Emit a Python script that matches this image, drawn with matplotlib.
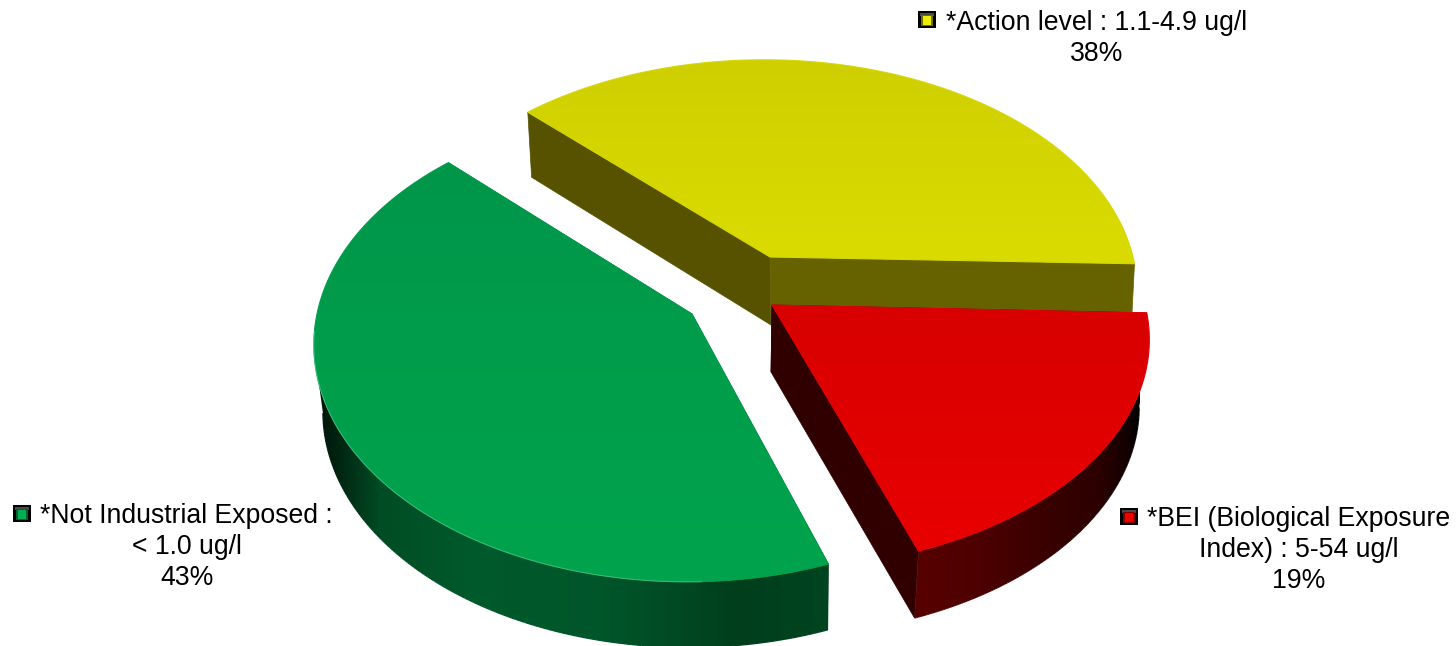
import numpy as np
import matplotlib
matplotlib.use('Agg')
import matplotlib.pyplot as plt
from matplotlib.collections import LineCollection
from matplotlib.colors import LinearSegmentedColormap, Normalize
from matplotlib.patches import Polygon, Rectangle

# clockwise on screen, starting near 3 o'clock
names = ['bei', 'none', 'action']
values = [19, 43, 38]
legend_lines = [
    ['*BEI (Biological Exposure', 'Index) : 5-54 ug/l'],
    ['*Not Industrial Exposed :', '< 1.0 ug/l'],
    ['*Action level : 1.1-4.9 ug/l'],
]

START_DEG = 2.0

# each slice has its own apex and a slightly different view of the disc;
# low = (x offset, x scale, y scale) of the bottom outline
styles = {
    'bei': dict(apex=(772, 305), apex_low=(771, 372), shift=1, a=372, b=224, tilt=0.151, turn=0,
                low=(1, 0.973, 1.0),
                top=('#d80000', '#e80000'),
                rim_x=(915, 1140),
                rim=[(0, '#580000'), (0.3, '#4c0000'), (0.6, '#380000'), (0.82, '#2c0000'), (0.95, '#120000'), (1, '#000000')],
                cut=('#300000', '#300000')),
    'none': dict(apex=(692, 314), apex_low=(692, 381), shift=-5, a=370, b=233, tilt=0.13, turn=0,
                 low=(2, 0.981, 0.995),
                 top=('#00964a', '#00a44d'),
                 rim_x=(318, 828),
                 rim=[(0, '#001408'), (0.05, '#002a14'), (0.12, '#004c24'), (0.3, '#005a2b'), (0.55, '#00562a'), (0.68, '#004c24'), (0.82, '#003e1c'), (1, '#004420')],
                 cut=('#003e1c', '#003e1c')),
    'action': dict(apex=(770, 257), apex_low=(771, 325), shift=-6, a=369, b=227, tilt=0.151, turn=-0.3,
                   low=(0, 0.988, 1.02),
                   top=('#cfcf00', '#dadc00'),
                   rim_x=(1100, 1140),
                   rim=[(0, '#666200'), (1, '#666200')],
                   cut=('#565200', '#666200')),
}
# legend block: marker box, first text line, centre of the wrapped lines
legend_pos = {
    'bei': dict(box=(1120, 508), x=1147, y=519, cx=1299),
    'none': dict(box=(13, 505), x=40, y=516, cx=187),
    'action': dict(box=(918, 11), x=946, y=23, cx=1097),
}
marker_fill = {'bei': ('#f20000', '#800000'), 'none': ('#00b050', '#006030'), 'action': ('#eeee00', '#707000')}
LINE_STEP = 31
FONT_SIZE = 19.2


def ring(theta, st, apex, low=(0, 1.0, 1.0)):
    # tilted disc with a little perspective: the near side comes out larger
    u, v = np.cos(theta), np.sin(theta)
    w = 1 - st['tilt'] * v
    return np.column_stack([apex[0] + st['shift'] + low[0] + low[1] * st['a'] * u / w,
                            apex[1] + low[2] * st['b'] * v / w])


def shaded(ax, outline, cmap, extent, gradient, z):
    # gradient image cut to a polygon
    patch = Polygon(outline, closed=True, facecolor='none', edgecolor='none', zorder=z)
    ax.add_patch(patch)
    img = ax.imshow(gradient, cmap=cmap, aspect='auto', extent=extent,
                    origin='upper', zorder=z, interpolation='bilinear')
    img.set_clip_path(patch)


fig = plt.figure(figsize=(14.56, 6.46), dpi=100)
ax = fig.add_axes([0, 0, 1, 1])

edges = START_DEG + np.cumsum([0] + values) * 3.6
spans = {n: (edges[i], edges[i + 1]) for i, n in enumerate(names)}

# back slice first so the red one sits on top of it
for name in ['action', 'none', 'bei']:
    st = styles[name]
    t0, t1 = np.radians(np.array(spans[name]) + st['turn'])
    theta = np.linspace(t0, t1, 220)
    arc = ring(theta, st, st['apex'])
    arc_low = ring(theta, st, st['apex_low'], st['low'])

    # the two cut faces
    for pt, pt_low, col in [(arc[0], arc_low[0], st['cut'][0]), (arc[-1], arc_low[-1], st['cut'][1])]:
        ax.add_patch(Polygon([st['apex'], pt, pt_low, st['apex_low']], closed=True,
                             facecolor=col, edgecolor=col, linewidth=0.5, zorder=2))

    # outer wall, only the part facing the viewer (from the silhouette points on)
    front = np.sin(theta) >= st['tilt']
    if front.sum() > 1:
        wall_top, wall_low = arc[front], arc_low[front]
        cmap = LinearSegmentedColormap.from_list(name, st['rim'])
        x0, x1 = st['rim_x']
        outline = np.vstack([wall_top, wall_low[::-1]])
        shaded(ax, outline, cmap,
               (x0, x1, outline[:, 1].max() + 2, outline[:, 1].min() - 2),
               np.linspace(0, 1, 512)[None, :], 2)
        # smooth the lower rim against the white ground
        segs = np.stack([wall_low[:-1], wall_low[1:]], axis=1)
        rim_line = LineCollection(segs, cmap=cmap, norm=Normalize(x0, x1),
                                  array=wall_low[:-1, 0], linewidth=0.9, zorder=2)
        ax.add_collection(rim_line)

    # top face with a soft front-to-back shade
    outline = np.vstack([[st['apex']], arc])
    cmap_top = LinearSegmentedColormap.from_list(name + '_top', st['top'])
    ylo, yhi = outline[:, 1].min(), outline[:, 1].max()
    shaded(ax, outline, cmap_top, (outline[:, 0].min(), outline[:, 0].max(), yhi, ylo),
           np.linspace(0, 1, 128)[:, None], 3)
    ax.add_patch(Polygon(outline, closed=True, facecolor='none', edgecolor=cmap_top(0.6),
                         linewidth=0.8, zorder=4))

    if name == 'none':
        # pale highlight on the front lip
        ax.plot(arc[25:150, 0], arc[25:150, 1], color='#5fd09a', linewidth=0.7, alpha=0.6, zorder=4)

ax.set_xlim(0, 1456)
ax.set_ylim(646, 0)
ax.axis('off')

for i, name in enumerate(names):
    pos = legend_pos[name]
    bx, by = pos['box']
    ax.add_patch(Rectangle((bx, by), 18, 17, facecolor='black', edgecolor='none', zorder=5))
    ax.add_patch(Rectangle((bx + 2, by + 2), 14, 3, facecolor='#4a4a4a', edgecolor='none', zorder=6))
    ax.add_patch(Rectangle((bx + 3, by + 4), 12, 11, facecolor=marker_fill[name][1], edgecolor='none', zorder=6))
    ax.add_patch(Rectangle((bx + 5, by + 5), 8, 9, facecolor=marker_fill[name][0], edgecolor='none', zorder=7))

    lines = legend_lines[i]
    ax.text(pos['x'], pos['y'], lines[0], ha='left', va='center', fontsize=FONT_SIZE,
            family='Liberation Sans', color='black', zorder=6)
    y = pos['y']
    for extra in lines[1:] + ['%d%%' % values[i]]:
        y += LINE_STEP
        ax.text(pos['cx'], y, extra, ha='center', va='center', fontsize=FONT_SIZE,
                family='Liberation Sans', color='black', zorder=6)

fig.savefig('out.png', dpi=100, facecolor='white')
